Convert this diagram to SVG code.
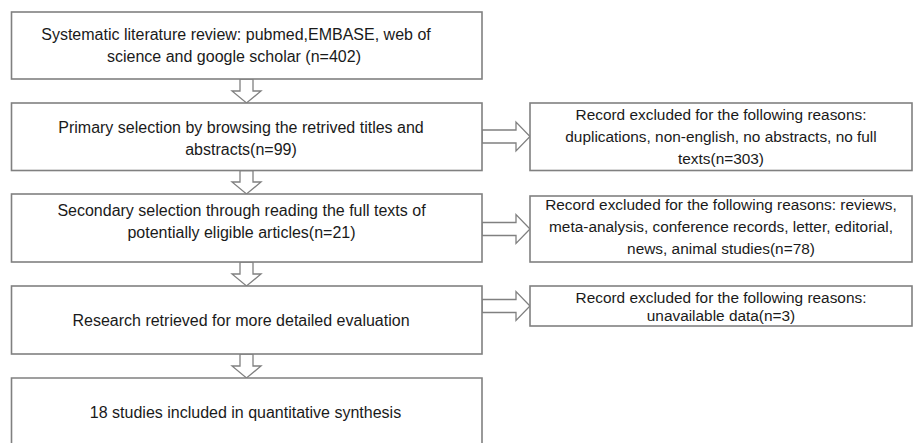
<svg xmlns="http://www.w3.org/2000/svg" width="919" height="443" viewBox="0 0 919 443">
<style>
.box{fill:#fff;stroke:#808080;stroke-width:1.6}
.arr{fill:#fff;stroke:#808080;stroke-width:1.3;stroke-linejoin:miter}
text{font-family:"Liberation Sans",Arial,sans-serif;font-size:16px;fill:#1a1a1a;text-anchor:middle}
.r text{font-size:15.4px}
</style>
<rect width="919" height="443" fill="#fff"/>
<g id="connectors">
<polygon class="arr" points="240,79 253,79 253,91 261,91 246.5,103 232,91 240,91"/>
<polygon class="arr" points="240,170.5 253,170.5 253,182 261,182 246.5,194 232,182 240,182"/>
<polygon class="arr" points="240,262 253,262 253,274 261,274 246.5,286 232,274 240,274"/>
<polygon class="arr" points="240,354 253,354 253,366 261,366 246.5,378 232,366 240,366"/>
<polygon class="arr" points="482,130 516,130 516,122 530,136.5 516,151 516,143 482,143"/>
<polygon class="arr" points="482,222.5 516,222.5 516,214.5 530,229 516,243.5 516,235.5 482,235.5"/>
<polygon class="arr" points="482,299.5 516,299.5 516,291.5 530,306 516,320.5 516,312.5 482,312.5"/>
</g>
<g id="n1"><rect class="box" x="11.5" y="12" width="470.5" height="67"/>
<text x="236" y="40">Systematic literature review: pubmed,EMBASE, web of</text>
<text x="234" y="62">science and google scholar (n=402)</text></g>
<g id="n2"><rect class="box" x="11.5" y="103" width="470.5" height="67.5"/>
<text x="241" y="133">Primary selection by browsing the retrived titles and</text>
<text x="241" y="155">abstracts(n=99)</text></g>
<g id="n3"><rect class="box" x="11.5" y="194" width="470.5" height="68"/>
<text x="241.5" y="216">Secondary selection through reading the full texts of</text>
<text x="241.5" y="238">potentially eligible articles(n=21)</text></g>
<g id="n4"><rect class="box" x="11.5" y="286" width="470.5" height="68"/>
<text x="241" y="326">Research retrieved for more detailed evaluation</text></g>
<g id="n5"><path class="box" d="M11.5,445 V378 H482 V445"/>
<text x="245.5" y="418">18 studies included in quantitative synthesis</text></g>
<g id="r1" class="r"><rect class="box" x="530" y="103" width="382" height="67.5"/>
<text x="721" y="120">Record excluded for the following reasons:</text>
<text x="721" y="142">duplications, non-english, no abstracts, no full</text>
<text x="721" y="164">texts(n=303)</text></g>
<g id="r2" class="r"><rect class="box" x="530" y="196" width="382" height="66"/>
<text x="721" y="210">Record excluded for the following reasons: reviews,</text>
<text x="721" y="232">meta-analysis, conference records, letter, editorial,</text>
<text x="721" y="254">news, animal studies(n=78)</text></g>
<g id="r3" class="r"><rect class="box" x="530" y="286" width="382" height="40"/>
<text x="721" y="303">Record excluded for the following reasons:</text>
<text x="721" y="321">unavailable data(n=3)</text></g>
</svg>
